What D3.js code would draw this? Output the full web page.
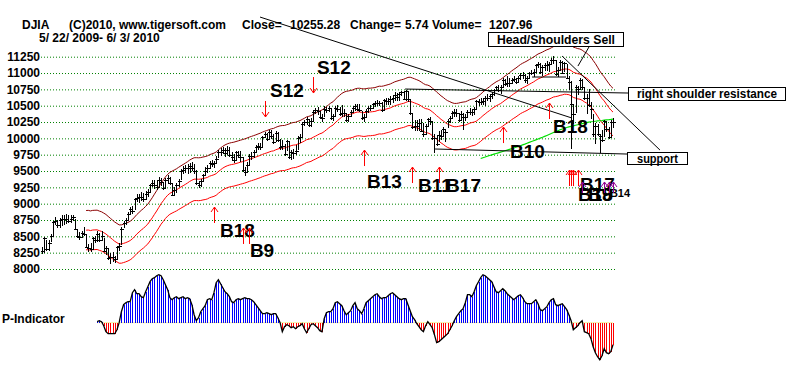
<!DOCTYPE html>
<html><head><meta charset="utf-8">
<script src="https://cdn.jsdelivr.net/npm/d3@7"></script>
<style>
body{margin:0;background:#fff}
svg{display:block}
text{font-family:"Liberation Sans",Arial,sans-serif;font-weight:bold;fill:#000}
</style>
</head><body>
<svg id="c" width="800" height="365"></svg>
<script>
// ---- DATA (DJIA daily, 5/22/2009 - 6/3/2010) ----
const closes = [
 8277,8473,8300,8403,8500,
 8721,8740,8675,8750,8764,8764,8763,8740,8770,8799,8612,8504,8497,8555,8539,8339,8322,8299,8472,8438,8529,8447,
 8504,8280,8324,8163,8178,8183,8146,8332,8359,8616,8711,8743,8848,8916,8881,9069,9093,9108,9096,9070,9154,9172,
 9286,9320,9280,9257,9370,9337,9241,9362,9398,9321,9135,9217,9279,9350,9506,9509,9539,9543,9580,9544,9496,
 9310,9280,9344,9441,9497,9547,9627,9605,9627,9684,9792,9784,9820,9778,9829,9748,9707,9665,9789,9742,9712,
 9509,9488,9599,9731,9725,9786,9865,9885,9871,10016,10063,9996,10092,10041,9949,10081,9972,9868,9882,9762,9962,9713,
 9789,9771,9802,10005,10023,10226,10247,10291,10197,10270,10406,10437,10426,10332,10318,10450,10433,10464,10309,10345,
 10471,10453,10366,10388,10390,10286,10337,10405,10471,10501,10452,10441,10309,10328,10414,10464,10466,10520,10547,10545,10548,10428,
 10583,10572,10574,10606,10618,10663,10627,10680,10711,10610,10725,10603,10389,10172,10196,10194,10236,10120,10067,
 10185,10297,10270,10002,10012,9908,10058,10038,10144,10099,10268,10309,10392,10402,10383,10282,10374,10321,10325,
 10404,10406,10396,10444,10567,10552,10564,10567,10611,10625,10642,10685,10733,10779,10741,10785,10888,10836,10841,10850,10895,10907,10857,
 10927,10973,10970,10897,10927,10997,11005,11019,11123,11144,11019,11092,11117,11124,11134,11204,11205,10991,11045,11167,11008,
 11151,10926,10868,10520,10380,10785,10748,10897,10782,10620,10625,10510,10444,10068,10193,10067,10043,9975,10259,10137,
 10025,10249,10255
];
const upWick = [
 60,20,150,40,30,
 20,60,80,30,70,60,80,90,50,30,160,110,70,30,110,180,60,100,20,70,60,100,
 80,200,30,150,60,70,60,20,40,20,30,40,20,40,80,20,50,40,80,90,40,50,
 20,40,80,100,40,60,90,30,40,90,180,40,40,30,20,70,60,70,40,90,110,
 210,60,30,20,60,40,30,60,30,40,30,70,50,80,50,120,80,100,20,60,90,
 200,80,40,30,60,40,30,50,60,20,30,80,30,80,110,30,130,120,90,150,20,250,
 40,60,90,30,50,20,30,40,100,40,30,30,50,80,50,40,50,30,150,30,
 30,60,120,130,60,100,40,30,30,30,70,80,110,50,30,30,40,20,30,40,30,130,
 20,50,50,40,40,40,70,30,20,110,20,100,200,220,90,80,60,180,170,
 30,20,60,260,50,140,60,90,30,50,30,30,20,40,70,100,40,60,50,
 30,60,60,30,20,50,50,50,30,50,40,30,30,30,80,30,40,70,110,70,30,50,60,
 20,30,40,90,30,20,40,40,20,30,140,30,40,60,40,20,50,210,40,30,170,
 20,210,90,360,140,30,60,20,130,160,50,250,110,310,40,160,20,150,20,120,
 150,30,60
];
const downWick = [
 50,230,30,120,90,
 230,60,40,130,100,90,80,40,70,60,20,30,50,80,40,20,60,40,170,40,110,30,
 70,20,110,20,100,80,50,180,80,250,90,70,100,80,40,170,60,90,60,40,100,70,
 110,70,50,40,110,60,30,130,90,40,20,80,110,90,150,60,70,90,110,50,40,
 30,40,90,110,60,80,90,50,80,70,100,60,60,60,90,30,50,40,120,50,70,
 30,60,120,140,60,80,80,60,50,150,60,40,120,50,40,140,30,50,60,30,160,30,
 120,80,50,190,90,200,60,80,30,100,140,70,70,30,60,130,40,60,30,80,
 130,50,30,60,70,30,90,80,70,80,40,40,30,70,100,80,40,70,60,50,50,20,
 150,60,60,100,70,90,50,110,60,30,150,40,30,30,90,80,120,30,40,
 130,130,60,20,240,30,120,60,120,150,110,70,90,70,60,30,100,200,60,
 80,50,60,90,130,50,60,60,110,60,80,90,90,60,30,110,110,40,50,60,70,40,30,
 80,80,60,50,100,90,40,80,100,60,30,130,80,90,120,80,60,30,100,120,20,
 140,20,130,680,160,400,80,150,40,30,250,30,150,40,280,30,270,30,240,40,
 30,250,90
];
// P-Indicator, first value belongs to trading day #25
const pStart = 25;
const pIndicator = [
 1,2,1,-3,-9,-11,-11,-11,-11,-7,
 0,11,18,20,21,21,30,33,29,29,
 26,25,31,36,41,44,45,47,48,47,
 43,38,33,25,23,25,26,24,25,26,
 24,25,24,18,8,2,5,11,14,17,
 23,24,23,30,40,43,39,35,31,29,
 26,21,20,23,24,23,24,25,24,24,
 23,21,18,15,12,9,9,10,9,8,
 9,9,5,0,-9,-4,-2,-3,-5,-4,
 -6,-4,-3,-1,-6,-10,-6,-2,-1,-3,
 -5,-8,-9,4,10,11,11,14,20,21,
 19,17,12,8,10,12,17,20,14,12,
 9,14,20,22,24,26,28,29,26,24,
 25,25,27,29,30,28,26,24,23,24,
 24,18,12,6,3,-1,-4,-7,-9,-3,
 1,-2,-5,-12,-20,-19,-17,-15,-13,-11,
 -7,-3,2,6,9,12,14,20,28,28,
 26,31,37,41,45,48,47,45,43,41,
 36,31,30,32,34,32,29,27,25,23,
 25,27,28,25,21,19,19,19,21,23,
 19,13,12,14,16,20,23,24,18,17,
 18,19,16,13,8,2,-7,-5,-3,0,
 2,-9,-10,-11,-16,-24,-30,-34,-37,-33,
 -26,-30,-31,-29,-22
];
const yTicks = [8000,8250,8500,8750,9000,9250,9500,9750,10000,10250,10500,10750,11000,11250];

// signals: trading day, price at arrow tip
const arrowDays   = [78,91,94,101,123,146,168,180,209,230,239,240,241,243,245,255,257,259];
const arrowPrices = [8949,8628,8628,10327,10694,9821,9561,9561,10173,10541,9515,9515,9515,9515,9332,9332,9332,9332];
const arrowDirs   = ['up','up','up','down','down','up','up','up','up','up','up','up','up','up','up','up','up','up'];
const arrowKinds  = ['r','r','r','r','r','r','r','r','r','r','r','r','r','r','p','p','p','p'];

const labelTexts  = ['S12','S12','B13','B11','B17','B18','B9','B10','B18','B17','B18','B9','B14'];
const labelDays   = [124.7,103.4,147.4,170.6,183.3,80.7,94.3,212.3,231.8,244,243.1,247.7,257.6];
const labelPrices = [10992,10633,9240,9179,9179,8490,8184,9699,10082,9194,9041,9041,9102];
const labelSmall  = [0,0,0,0,0,0,0,0,0,0,0,0,1];

// chart-pattern lines: [day, price] pairs
const trendLines = [
 [[98.9,11857],[240.4,10311]],
 [[164.7,10755],[265.8,10694]],
 [[178.3,9837],[265.4,9760]],
 [[235.9,11260],[280.3,9821]],
 [[248.6,11428],[243.1,11107]],
 [[222.3,10939],[237.7,10939]]
];

// ---- DRAW ----
const svg = d3.select('#c');
const N = closes.length;
const x = d3.scaleLinear().domain([0, N-1]).range([42, 613]);
const y = d3.scaleLinear().domain([8000, 11250]).range([269, 56.7]);
const py = d3.scaleLinear().domain([-40, 50]).range([362.7, 272.7]);
const px = i => Math.round(x(i)) + 0.5;

// title
const title = svg.append('g').attr('font-size', 12);
[['DJIA',22,29],['(C)2010, www.tigersoft.com',69,29],['Close=',242,29],['10255.28',290,29],
 ['Change=',350,29],['5.74',405,29],['Volume=',432,29],['1207.96',489,29],
 ['5/ 22/ 2009- 6/ 3/ 2010',39,41.5]].forEach(t=>{
  title.append('text').attr('x',t[1]).attr('y',t[2]).text(t[0]);
});

// y axis + dotted grid
const ax = d3.axisLeft(y).tickValues(yTicks).tickSize(-574).tickPadding(1).tickFormat(d3.format('d'));
const gA = svg.append('g').attr('transform','translate(41,0)').call(ax);
gA.select('.domain').remove();
gA.selectAll('.tick line').attr('stroke','#008000').attr('stroke-dasharray','1,2');
gA.selectAll('.tick text').attr('font-size',12).attr('font-weight','bold')
  .attr('font-family','"Liberation Sans",Arial,sans-serif').attr('fill','#000');

// moving averages & bands
function sma(n){ return closes.map((c,i)=> i < n-1 ? null : d3.mean(closes.slice(i-n+1, i+1))); }
const ma21 = sma(21), ma200 = sma(200);
const ln = d3.line().defined(d=>d[1]!=null).x(d=>x(d[0])).y(d=>y(d[1]));
const series = (arr, k) => arr.map((v,i)=>[i, v==null?null:v*k]);
svg.append('path').attr('d', ln(series(ma21,1.035))).attr('fill','none').attr('stroke','#8b0000').attr('stroke-width',1);
svg.append('path').attr('d', ln(series(ma21,1))).attr('fill','none').attr('stroke','#ff0000').attr('stroke-width',1);
svg.append('path').attr('d', ln(series(ma21,0.965))).attr('fill','none').attr('stroke','#ff0000').attr('stroke-width',1);
svg.append('path').attr('d', ln(series(ma200,1))).attr('fill','none').attr('stroke','#00e000').attr('stroke-width',1.2);

// price bars
const gB = svg.append('g').attr('stroke','#000').attr('shape-rendering','crispEdges');
gB.selectAll('line.hl').data(closes).join('line').attr('class','hl')
  .attr('x1',(d,i)=>px(i)).attr('x2',(d,i)=>px(i))
  .attr('y1',(d,i)=>y(d+upWick[i])).attr('y2',(d,i)=>y(d-downWick[i]));
gB.selectAll('line.cl').data(closes).join('line').attr('class','cl')
  .attr('x1',(d,i)=>px(i)-1.5).attr('x2',(d,i)=>px(i)+2)
  .attr('y1',d=>Math.round(y(d))+0.5).attr('y2',d=>Math.round(y(d))+0.5);

// P-Indicator
const pData = pIndicator.map((v,k)=>[pStart+k, v]);
svg.append('line').attr('x1',x(pStart)).attr('x2',x(N-1)).attr('y1',py(0)).attr('y2',py(0))
  .attr('stroke','#f4f0a0').attr('stroke-width',1);
svg.append('g').attr('shape-rendering','crispEdges').selectAll('line').data(pData).join('line')
  .attr('x1',d=>px(d[0])).attr('x2',d=>px(d[0]))
  .attr('y1',py(0)).attr('y2',d=>py(d[1]))
  .attr('stroke',d=>d[1]>=0?'#0000ff':'#ff0000');
svg.append('path').attr('d', d3.line().x(d=>x(d[0])).y(d=>py(d[1]))(pData))
  .attr('fill','none').attr('stroke','#000').attr('stroke-width',1.3);
svg.append('text').attr('x',2).attr('y',323).attr('font-size',12).text('P-Indicator');

// pattern lines
svg.append('g').selectAll('line').data(trendLines).join('line')
  .attr('x1',d=>x(d[0][0])).attr('y1',d=>y(d[0][1]))
  .attr('x2',d=>x(d[1][0])).attr('y2',d=>y(d[1][1]))
  .attr('stroke','#000').attr('stroke-width',1);

// annotation boxes
function box(x0,y0,w,h,txt,tx,ty,tl){
  svg.append('rect').attr('x',x0+0.5).attr('y',y0+0.5).attr('width',w).attr('height',h)
    .attr('fill','#fff').attr('stroke','#000');
  svg.append('text').attr('x',tx).attr('y',ty).attr('font-size',12)
    .attr('textLength',tl).attr('lengthAdjust','spacingAndGlyphs').text(txt);
}
box(488,32,135,14,'Head/Shoulders Sell',497,44,118);
box(628,87,157,13,'right shoulder resistance',637,97.5,140);
box(627,152,60,12,'support',637,162.5,41);

// signal labels
svg.append('g').selectAll('text').data(labelTexts).join('text')
  .attr('x',(d,i)=>x(labelDays[i])).attr('y',(d,i)=>y(labelPrices[i]))
  .attr('font-size',(d,i)=>labelSmall[i]?11:19).text(d=>d);

// signal arrows
const gS = svg.append('g').attr('fill','none').attr('stroke-width',1);
arrowDays.forEach((d,k)=>{
  const ax0 = px(d), ty = y(arrowPrices[k]);
  const col = arrowKinds[k]==='p' ? '#900090' : '#ff0000';
  const s = arrowDirs[k]==='up' ? 1 : -1;
  const len = arrowKinds[k]==='p' ? 11 : 16;
  gS.append('path').attr('stroke',col)
    .attr('d',`M${ax0},${ty}V${ty+s*len}M${ax0-3.5},${ty+s*5}L${ax0},${ty}L${ax0+3.5},${ty+s*5}`);
});
</script>
</body></html>
